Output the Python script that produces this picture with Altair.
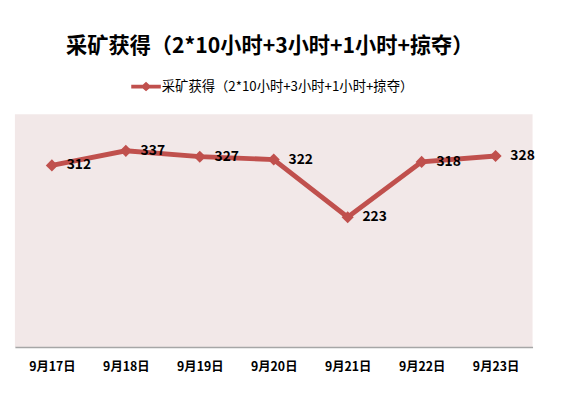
import altair as alt
import pandas as pd

dates = ["9月17日", "9月18日", "9月19日", "9月20日", "9月21日", "9月22日", "9月23日"]
values = [312, 337, 327, 322, 223, 318, 328]
series_name = "采矿获得（2*10小时+3小时+1小时+掠夺）"
title_text = "采矿获得（2*10小时+3小时+1小时+掠夺）"

df = pd.DataFrame({"date": dates, "value": values, "series": [series_name] * len(dates)})

FONT = "Noto Sans CJK SC"
RED = "#c0504d"

x = alt.X("date:N", sort=dates, title=None,
          scale=alt.Scale(paddingInner=0, paddingOuter=0.5),
          axis=alt.Axis(labelAngle=0, labelFont=FONT, labelFontWeight="bold",
                        labelFontSize=12.5, labelColor="#000000", labelPadding=14,
                        ticks=False, domainColor="#a6a6a6", domainWidth=1.5, grid=False))
y = alt.Y("value:Q", scale=alt.Scale(domain=[0, 400]), axis=None)

legend_sym = "M-1,-0.13L-0.22,-0.13L0,-0.32L0.22,-0.13L1,-0.13L1,0.13L0.22,0.13L0,0.32L-0.22,0.13L-1,0.13Z"

line = alt.Chart(df).mark_line(strokeWidth=5).encode(
    x=x, y=y,
    color=alt.Color("series:N", scale=alt.Scale(range=[RED]), title=None,
                    legend=alt.Legend(orient="none", legendX=118, legendY=-43,
                                      symbolType=legend_sym, symbolSize=900,
                                      symbolFillColor=RED, symbolStrokeColor=RED,
                                      symbolStrokeWidth=0, symbolOpacity=1,
                                      labelOffset=1,
                                      labelFont=FONT, labelFontSize=13.5, labelColor="#000000",
                                      labelLimit=400))
)
pts = alt.Chart(df).mark_point(shape="diamond", filled=True, size=150, opacity=1, color=RED).encode(x=x, y=y)
labels = alt.Chart(df).mark_text(align="left", baseline="middle", dx=15, dy=0, font=FONT,
                                 fontSize=14, fontWeight="bold", color="#000000").encode(
    x=x, y=y, text="value:Q")

chart = alt.layer(line, pts, labels).properties(
    width=525, height=236,
    padding={"left": 7, "top": 105, "right": 40, "bottom": 40},
    autosize=alt.AutoSizeParams(type="none"),
    title=alt.TitleParams(title_text, font=FONT, fontSize=21.5, fontWeight="bold",
                          color="#000000", anchor="middle", dx=-4, offset=15),
).configure_view(fill="#f2e8e8", stroke=None)

chart.save("out.html", embed_options={"renderer": "svg", "actions": False})
